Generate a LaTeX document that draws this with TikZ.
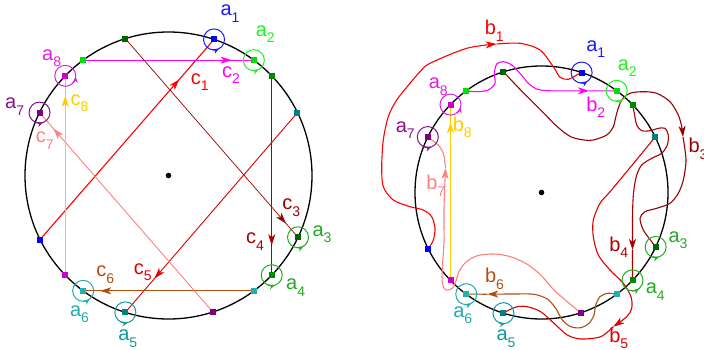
\documentclass[tikz,border=0pt]{standalone}
\usepackage{fontspec}
\setmainfont{Liberation Sans}
\usepackage{xcolor}
\usepackage{tikz}
\usetikzlibrary{arrows.meta,calc,decorations.markings}
% square markers
\definecolor{ptoA1}{HTML}{0000FF}
\definecolor{ptoA2}{HTML}{00E000}
\definecolor{ptoA3}{HTML}{006400}
\definecolor{ptoA4}{HTML}{008A00}
\definecolor{ptoA5}{HTML}{008080}
\definecolor{ptoA6}{HTML}{20B0B0}
\definecolor{ptoA7}{HTML}{800080}
\definecolor{ptoA8}{HTML}{CC00CC}
% spinning circles and a-labels
\definecolor{giroA1}{HTML}{1A1AFF}
\definecolor{giroA2}{HTML}{22EE22}
\definecolor{giroA3}{HTML}{22AA22}
\definecolor{giroA4}{HTML}{22AA22}
\definecolor{giroA5}{HTML}{119999}
\definecolor{giroA6}{HTML}{22AAAA}
\definecolor{giroA7}{HTML}{881188}
\definecolor{giroA8}{HTML}{DD22DD}
% chords c_i and curves b_i
\definecolor{linC1}{HTML}{FF0000}
\definecolor{linC2}{HTML}{FF00FF}
\definecolor{linC3}{HTML}{990000}
\definecolor{linC4}{HTML}{AA0000}
\definecolor{linC5}{HTML}{DD0000}
\definecolor{linC6}{HTML}{B05010}
\definecolor{linC7}{HTML}{FF8080}
\definecolor{linC8}{HTML}{FFCC00}
\newcommand{\etq}[2]{#1\raisebox{-6.5pt}{\fontsize{14}{15}\selectfont #2}}
\tikzset{
  borde/.style={draw=black, line width=1.3pt},
  marca/.style={rectangle, fill=#1, inner sep=0pt, minimum size=6pt},
  giro/.style={circle, draw=#1, line width=1pt, minimum size=21pt, inner sep=0pt},
  giroflecha/.style={color=#1, line width=1pt, -{Stealth[length=6pt,width=5pt]}},
  cuerda/.style={color=#1, line width=0.9pt},
  curva/.style={color=#1, line width=1.1pt},
  punta/.style={-{Stealth[length=11pt,width=7pt,inset=3pt]}},
  flecha/.style={postaction={decorate}, decoration={markings, mark=at position #1 with {\arrow{Stealth[length=11pt,width=7pt,inset=3pt]}}}},
  etiq/.style={inner sep=0pt, text=#1, font=\fontsize{20}{23}\selectfont},
}
\begin{document}
\begin{tikzpicture}[x=1pt,y=1pt]
\useasboundingbox (0,0) rectangle (704,349);
\coordinate (Lc) at (168.5,173.5);
\coordinate (Rc) at (541.5,156.5);
% points on both circles
\foreach \nm/\ang in {a1/71.5, p1/206.5, a2/53.5, p2/126.5, a3/-25.5, p3/107.5, a4/-44, p4/44,
    a5/-107.5, p5/26, a6/-126.5, p6/-53.5, a7/154, p7/-72, a8/136, p8/224}{
  \coordinate (L\nm) at ($(Lc)+(\ang:143.5)$);
  \coordinate (R\nm) at ($(Rc)+(\ang:126.5)$);
}
\draw[borde] (Lc) circle[radius=143.5];
\draw[borde] (Rc) circle[radius=126.5];
\node[circle, fill=black, inner sep=0pt, minimum size=5.6pt] (Ldot) at (Lc) {};
\node[circle, fill=black, inner sep=0pt, minimum size=5.6pt] (Rdot) at (Rc) {};

% left: straight chords
\draw[cuerda=linC1, line width=1.1pt, flecha=0.8] (Lp1) -- (La1);
\draw[cuerda=linC2, flecha=0.87] (Lp2) -- (La2);
\draw[cuerda=linC3, line width=0.7pt, flecha=0.93] (Lp3) -- (La3);
\draw[cuerda=linC4, flecha=0.85] (Lp4) -- (La4);
\draw[cuerda=linC5, flecha=0.83] (Lp5) -- (La5);
\draw[cuerda=linC6, flecha=0.9] (Lp6) -- (La6);
\draw[cuerda=linC7, flecha=0.92] (Lp7) -- (La7);
\draw[cuerda=linC8, flecha=0.9] (Lp8) -- (La8);

% right: wiggly curves
\coordinate (b1m) at (496.7,305);
\draw[curva=linC1, punta] plot[smooth] coordinates {(Rp1) (433.3,109) (435,120.7) (431.7,132.3) (423.3,139) (410,142.3) (393.3,149) (383.3,162.3) (381.7,182.3) (383.3,209) (388.3,232.3) (396.7,249) (410,265.7) (420,277.3) (430,285.7) (466.7,300.7) (b1m)};
\draw[curva=linC1] plot[smooth] coordinates {(b1m) (520,305.7) (540,299) (553.3,282.3) (560,271.7) (568.3,269.7) (576.7,274) (Ra1)};
\coordinate (b2m) at (589,258.2);
\draw[curva=linC2, punta] plot[smooth] coordinates {(Rp2) (476.7,257.3) (488.3,259) (495,265.7) (494.3,275.7) (496.7,285) (503.3,287.3) (511.7,284) (520,275.7) (528.3,265.7) (536.7,260) (546.7,258.3) (565,258.2) (b2m)};
\draw[curva=linC2] (b2m) -- (Ra2);
\coordinate (b3m) at (683,212);
\draw[curva=linC3, punta] plot[smooth] coordinates {(Rp3) (520.7,259) (540.7,239) (557.3,222.3) (570.7,212.3) (584,209) (593.3,209) (606.7,214) (613.3,222.3) (616.7,235.7) (621.7,249) (630,255.7) (643.3,257.3) (656.7,255.7) (670,247.3) (678.3,234) (681.7,222.3) (b3m)};
\draw[curva=linC3] plot[smooth] coordinates {(b3m) (686,189) (683.3,169) (678.3,155.7) (670,145.7) (656.7,140.7) (645,137.3) (640,130.7) (643.3,119) (651.7,107.3) (Ra3)};
\coordinate (b4m) at (632.5,99);
\draw[curva=linC4, punta] plot[smooth] coordinates {(Rp4) (634.3,235.7) (636.7,224) (641.7,218.3) (650,218.3) (658.3,220.7) (665,220.7) (668.3,214) (667.3,204) (661.7,195.7) (651.7,190.7) (641.7,184) (636.7,174) (634.3,162.3) (633,149) (632.5,130) (b4m)};
\draw[curva=linC4] (b4m) -- (Ra4);
\coordinate (b5m) at (613.3,22.3);
\draw[curva=linC5, punta] plot[smooth] coordinates {(Rp5) (627.6,178.4) (610,157.3) (600,145.7) (593.3,129) (593.3,112.3) (598.3,94) (610,79) (623.3,65.7) (631,52.3) (631.7,40.7) (626.7,32.3) (b5m)};
\draw[curva=linC5] plot[smooth] coordinates {(b5m) (600.7,12.3) (580.7,10) (567.3,14) (554,25.7) (540.7,37.3) (527.3,42.3) (517.3,42.3) (509,39) (Ra5)};
\coordinate (b6m) at (487.3,54.8);
\draw[curva=linC6, punta] plot[smooth] coordinates {(Rp6) (607.3,55.7) (600,52.3) (595.7,44) (594,34) (589,25.7) (580.7,21.3) (570.7,22.3) (562.3,29) (555.7,40.7) (547.3,50) (534,54.7) (514,55) (b6m)};
\draw[curva=linC6] (b6m) -- (Ra6);
\coordinate (b7m) at (445.5,181);
\draw[curva=linC7, punta] plot[smooth] coordinates {(Rp7) (567.3,47.3) (554,59) (540.7,74) (527.3,84.7) (510.7,92.3) (494,95) (477.3,93.3) (465.7,86.7) (459,77.3) (455.7,67.3) (452.3,60.7) (445.7,59) (442.3,65.7) (442.3,80.7) (444,107.3) (444,140.7) (b7m)};
\draw[curva=linC7] plot[smooth] coordinates {(b7m) (445,185.7) (443.3,195.7) (438.3,204) (431.7,209) (Ra7)};
\draw[curva=linC8, line width=0.9pt, flecha=0.9] (Rp8) -- (Ra8);

% spinning circles
\foreach \pt/\col/\ang in {La1/giroA1/-62, La2/giroA2/-63, La3/giroA3/-60, La4/giroA4/-72,
    La5/giroA5/-76, La6/giroA6/-52, La7/giroA7/-70, La8/giroA8/-5,
    Ra1/giroA1/-57, Ra2/giroA2/-57, Ra3/giroA3/-71, Ra4/giroA4/-53,
    Ra5/giroA5/-80, Ra6/giroA6/-62, Ra7/giroA7/-70, Ra8/giroA8/-14}{
  \node[giro=\col] (g\pt) at (\pt) {};
  \draw[giroflecha=\col] (\pt) ++(\ang-40:10.5) arc[start angle=\ang-40, end angle=\ang, radius=10.5];
}

% square markers
\foreach \pt/\col in {La1/ptoA1, Lp1/ptoA1, La2/ptoA2, Lp2/ptoA2, La3/ptoA3, Lp3/ptoA3,
    La4/ptoA4, Lp4/ptoA4, La5/ptoA5, Lp5/ptoA5, La6/ptoA6, Lp6/ptoA6, La7/ptoA7, Lp7/ptoA7,
    La8/ptoA8, Lp8/ptoA8, Ra1/ptoA1, Rp1/ptoA1, Ra2/ptoA2, Rp2/ptoA2, Ra3/ptoA3, Rp3/ptoA3,
    Ra4/ptoA4, Rp4/ptoA4, Ra5/ptoA5, Rp5/ptoA5, Ra6/ptoA6, Rp6/ptoA6, Ra7/ptoA7, Rp7/ptoA7,
    Ra8/ptoA8, Rp8/ptoA8}{
  \node[marca=\col] (m\pt) at (\pt) {};
}

% labels, left
\node[etiq=giroA1] (tLa1) at (230,335.2) {\etq{a}{1}};
\node[etiq=giroA2] (tLa2) at (265.3,314.8) {\etq{a}{2}};
\node[etiq=giroA3] (tLa3) at (322,114.8) {\etq{a}{3}};
\node[etiq=giroA4] (tLa4) at (295.7,61.5) {\etq{a}{4}};
\node[etiq=giroA5] (tLa5) at (127.8,10.5) {\etq{a}{5}};
\node[etiq=giroA6] (tLa6) at (79.5,35) {\etq{a}{6}};
\node[etiq=giroA7] (tLa7) at (14.7,242.3) {\etq{a}{7}};
\node[etiq=giroA8] (tLa8) at (51.7,290.7) {\etq{a}{8}};
\node[etiq=linC1] (tc1) at (199.8,266.7) {\etq{c}{1}};
\node[etiq=linC2] (tc2) at (231,274) {\etq{c}{2}};
\node[etiq=linC3] (tc3) at (291.3,141.5) {\etq{c}{3}};
\node[etiq=linC4] (tc4) at (255,107.3) {\etq{c}{4}};
\node[etiq=linC5] (tc5) at (142.8,77) {\etq{c}{5}};
\node[etiq=linC6] (tc6) at (105.3,74.2) {\etq{c}{6}};
\node[etiq=linC7] (tc7) at (44.7,208.3) {\etq{c}{7}};
\node[etiq=linC8] (tc8) at (79.5,245.7) {\etq{c}{8}};

% labels, right
\node[etiq=giroA1] (tRa1) at (595.7,299.8) {\etq{a}{1}};
\node[etiq=giroA2] (tRa2) at (627.3,280.7) {\etq{a}{2}};
\node[etiq=giroA3] (tRa3) at (678,109) {\etq{a}{3}};
\node[etiq=giroA4] (tRa4) at (655.3,57.3) {\etq{a}{4}};
\node[etiq=giroA5] (tRa5) at (506,10.5) {\etq{a}{5}};
\node[etiq=giroA6] (tRa6) at (462.7,34) {\etq{a}{6}};
\node[etiq=giroA7] (tRa7) at (405.3,219) {\etq{a}{7}};
\node[etiq=giroA8] (tRa8) at (438.2,262.3) {\etq{a}{8}};
\node[etiq=linC1] (tb1) at (494.3,318.3) {\etq{b}{1}};
\node[etiq=linC2] (tb2) at (595.7,241.5) {\etq{b}{2}};
\node[etiq=linC3] (tb3) at (698,200) {\etq{b}{3}};
\node[etiq=linC4] (tb4) at (618.7,101.5) {\etq{b}{4}};
\node[etiq=linC5] (tb5) at (618.7,10.5) {\etq{b}{5}};
\node[etiq=linC6] (tb6) at (494.5,70) {\etq{b}{6}};
\node[etiq=linC7] (tb7) at (435.7,163.2) {\etq{b}{7}};
\node[etiq=linC8] (tb8) at (462.3,221.5) {\etq{b}{8}};
\end{tikzpicture}
\end{document}
